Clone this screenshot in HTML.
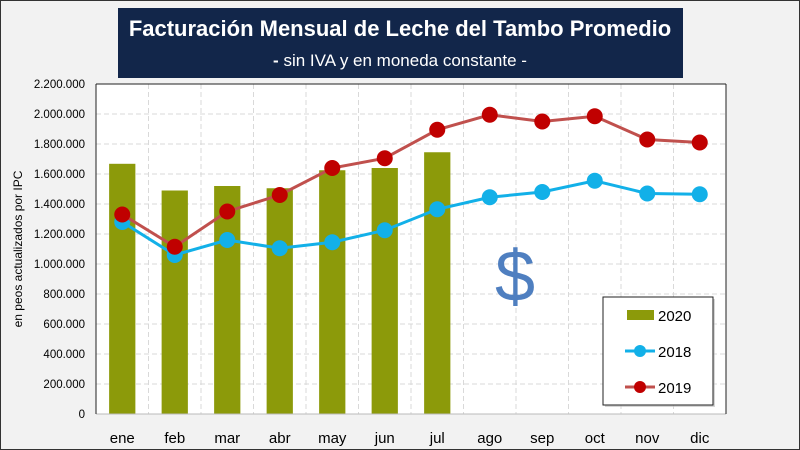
<!DOCTYPE html>
<html><head><meta charset="utf-8"><style>
body{margin:0;width:800px;height:450px;overflow:hidden;background:#f2f2f2;font-family:"Liberation Sans",sans-serif}
</style></head><body>
<svg width="800" height="450" style="position:absolute;left:0;top:0">
<rect x="0.5" y="0.5" width="799" height="449" fill="#f2f2f2" stroke="#333"/>
<rect x="118" y="8" width="565" height="70" fill="#12264a"/>
<text x="400" y="36" text-anchor="middle" fill="#fff" font-size="22" font-weight="bold">Facturación Mensual de Leche del Tambo Promedio</text>
<text x="400" y="66" text-anchor="middle" fill="#fff" font-size="17"><tspan font-weight="bold">-</tspan> sin IVA y en moneda constante -</text>
<rect x="96" y="84" width="630" height="330" fill="#fff"/>
<g id="grid"></g><g id="bars"></g><g id="lines"></g><g id="axes"></g>
<line x1="96" y1="84" x2="726" y2="84" stroke="#222"/>
<line x1="96" y1="84" x2="96" y2="414" stroke="#222"/>
<line x1="726" y1="84" x2="726" y2="414" stroke="#222"/>
<text x="0" y="0" transform="translate(22,249) rotate(-90)" text-anchor="middle" font-size="12" fill="#000">en peos actualizados por IPC</text>
<text x="515" y="301" text-anchor="middle" font-size="72" fill="#4f7fc0">$</text>
<g>
<rect x="605" y="299" width="110" height="108" fill="#bbb" opacity="0.6"/>
<rect x="603" y="297" width="110" height="108" fill="#fff" stroke="#222"/>
<rect x="627" y="310" width="27" height="10" fill="#8c9a0a"/>
<text x="658" y="321" font-size="15">2020</text>
<line x1="625" y1="351" x2="655" y2="351" stroke="#12b0e8" stroke-width="3"/>
<circle cx="640" cy="351" r="6" fill="#12b0e8"/>
<text x="658" y="357" font-size="15">2018</text>
<line x1="625" y1="387" x2="655" y2="387" stroke="#c0504d" stroke-width="3"/>
<circle cx="640" cy="387" r="6" fill="#c00000"/>
<text x="658" y="393" font-size="15">2019</text>
</g>
</svg>
<script>
const months=["ene","feb","mar","abr","may","jun","jul","ago","sep","oct","nov","dic"];
const values2020=[1668,1490,1520,1505,1625,1640,1745];
const values2018=[1280,1060,1160,1105,1145,1225,1365,1445,1480,1555,1470,1465];
const values2019=[1330,1115,1350,1460,1640,1705,1895,1995,1950,1985,1830,1810];
const yTicks=[0,200,400,600,800,1000,1200,1400,1600,1800,2000,2200];
const yTickLabels=["0","200.000","400.000","600.000","800.000","1.000.000","1.200.000","1.400.000","1.600.000","1.800.000","2.000.000","2.200.000"];
const NS="http://www.w3.org/2000/svg";
const X0=96,X1=726,Y0=414,Y1=84,YMAX=2200;
const band=(X1-X0)/months.length;
function xs(i){return X0+band*(i+0.5);}
function ys(v){return Y0-(v/YMAX)*(Y0-Y1);}
function mk(tag,attrs,parent){const e=document.createElementNS(NS,tag);for(const k in attrs)e.setAttribute(k,attrs[k]);document.getElementById(parent).appendChild(e);return e;}
yTicks.forEach((t,i)=>{
  if(t>0&&t<YMAX){const g=mk('line',{x1:X0,x2:X1,y1:ys(t),y2:ys(t),stroke:'#d9d9d9','stroke-dasharray':'5,3'},'grid');
  
  }
  const l=mk('text',{x:85,y:ys(t)+4,'text-anchor':'end','font-size':'11.5',fill:'#000'},'axes');
  l.textContent=yTickLabels[i];
  
  
});
for(let i=1;i<months.length;i++){
  const g=mk('line',{x1:X0+band*i,x2:X0+band*i,y1:Y1,y2:Y0,stroke:'#d9d9d9','stroke-dasharray':'5,3'},'grid');
  
  
}
const ax=mk('line',{x1:X0,x2:X1,y1:Y0,y2:Y0,stroke:'#bbb'},'axes');


months.forEach((m,i)=>{
  const t=mk('text',{x:xs(i),y:443,'text-anchor':'middle','font-size':'15',fill:'#000'},'axes');
  t.textContent=m;
  
  
});
const bw=band*0.5;
values2020.forEach((v,i)=>{
  const b=mk('rect',{x:xs(i)-bw/2,y:ys(v),width:bw,height:Y0-ys(v),fill:'#8c9a0a'},'bars');
  
  
});
function series(vals,lc,mc,name){
  const p=mk('polyline',{points:vals.map((v,i)=>xs(i)+','+ys(v)).join(' '),fill:'none',stroke:lc,'stroke-width':3},'lines');
  
  
  vals.forEach((v,i)=>{
    const c=mk('circle',{cx:xs(i),cy:ys(v),r:8,fill:mc},'lines');
    
    
  });
}
series(values2018,'#12b0e8','#12b0e8','2018');
series(values2019,'#c0504d','#c00000','2019');
</script>
</body></html>
